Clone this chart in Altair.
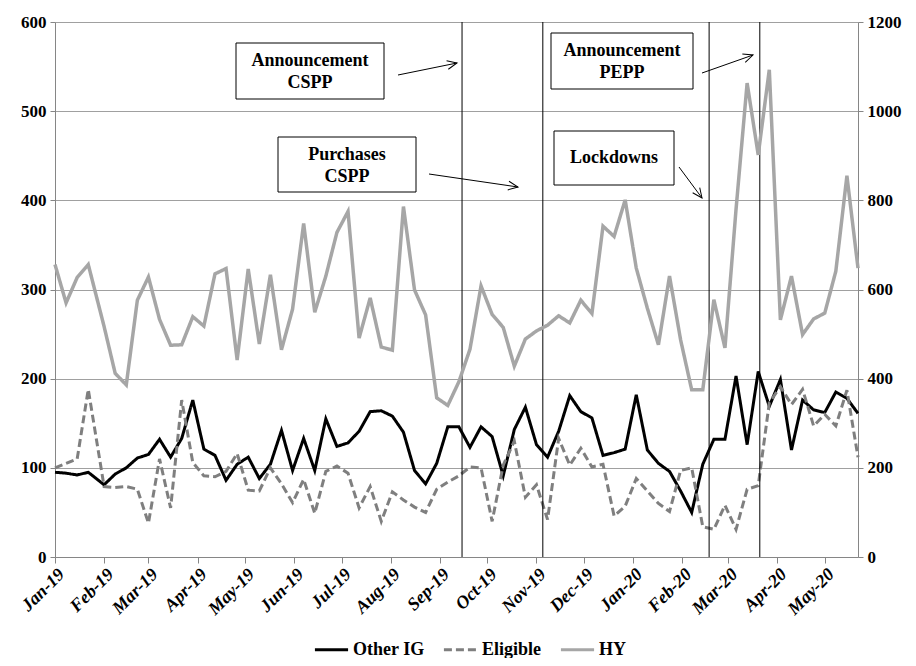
import math
import altair as alt
import pandas as pd

# ---------------- data ----------------
dates = [
    "2019-01-01", "2019-01-08", "2019-01-15", "2019-01-22",
    "2019-02-01", "2019-02-08", "2019-02-15", "2019-02-22",
    "2019-03-01", "2019-03-08", "2019-03-15", "2019-03-22", "2019-03-29",
    "2019-04-05", "2019-04-12", "2019-04-19", "2019-04-26",
    "2019-05-03", "2019-05-10", "2019-05-17", "2019-05-24", "2019-05-31",
    "2019-06-07", "2019-06-14", "2019-06-21", "2019-06-28",
    "2019-07-05", "2019-07-12", "2019-07-19", "2019-07-26",
    "2019-08-02", "2019-08-09", "2019-08-16", "2019-08-23", "2019-08-30",
    "2019-09-06", "2019-09-13", "2019-09-20", "2019-09-27",
    "2019-10-04", "2019-10-11", "2019-10-18", "2019-10-25",
    "2019-11-01", "2019-11-08", "2019-11-15", "2019-11-22", "2019-11-29",
    "2019-12-06", "2019-12-13", "2019-12-20", "2019-12-27",
    "2020-01-03", "2020-01-10", "2020-01-17", "2020-01-24", "2020-01-31",
    "2020-02-07", "2020-02-14", "2020-02-21", "2020-02-28",
    "2020-03-06", "2020-03-13", "2020-03-20", "2020-03-27",
    "2020-04-03", "2020-04-10", "2020-04-17", "2020-04-24",
    "2020-05-01", "2020-05-08", "2020-05-15", "2020-05-22",
]

other_ig = [
    95, 94, 92, 95, 81, 93, 100, 111, 115, 132, 112, 133, 176,
    121, 114, 86, 104, 112, 88, 104, 142, 97, 133, 97, 155, 124,
    128, 141, 163, 164, 158, 140, 97, 82, 105, 146, 146, 123, 146,
    135, 91, 143, 168, 126, 112, 141, 181, 163, 156, 114, 117, 121,
    182, 120, 105, 96, 74, 50, 104, 132, 132, 203, 126, 208, 169,
    199, 120, 176, 165, 162, 185, 178, 161,
]

eligible = [
    100, 105, 110, 188, 79, 78, 79, 76, 38, 110, 55, 176, 106,
    91, 90, 96, 116, 75, 74, 100, 82, 61, 87, 49, 96, 102,
    94, 55, 79, 40, 73, 64, 56, 50, 76, 84, 91, 101, 100,
    40, 103, 130, 67, 81, 42, 133, 103, 122, 101, 104, 46, 57,
    88, 74, 60, 51, 97, 100, 34, 31, 58, 31, 76, 80, 173,
    191, 171, 188, 147, 160, 147, 187, 112,
]

hy = [
    656, 570, 627, 656, 517, 412, 386, 576, 628, 533, 475, 476, 539,
    518, 635, 647, 442, 646, 478, 633, 465, 556, 748, 549, 630, 728,
    775, 491, 581, 471, 464, 786, 599, 543, 357, 340, 393, 466, 608,
    544, 515, 428, 489, 507, 520, 541, 525, 576, 546, 742, 719, 801,
    648, 558, 476, 630, 487, 375, 375, 577, 469, 780, 1063, 902, 1093,
    532, 630, 499, 534, 547, 641, 855, 648,
]

series_names = ["Other IG", "Eligible", "HY"]
series_colors = ["#000000", "#7f7f7f", "#a6a6a6"]
series_dashes = [[1, 0], [8, 4], [1, 0]]

event_dates = ["2019-09-15", "2019-11-05", "2020-02-18", "2020-03-21"]

left_ticks = [0, 100, 200, 300, 400, 500, 600]
right_ticks = [0, 200, 400, 600, 800, 1000, 1200]

# annotations (pixel layout in the page)
boxes = [
    # text, left, right, top, bottom, y of first text line
    ("Announcement\nCSPP", 236, 384, 43, 99, 61),
    ("Purchases\nCSPP", 278, 416, 137, 192, 155),
    ("Announcement\nPEPP", 551, 693, 33, 89, 51),
    ("Lockdowns", 554, 674, 131, 185, 158),
]
arrows = [
    # x start, y start, x end, y end
    (398, 75, 457, 63),
    (429, 174, 518, 187),
    (702, 73, 753, 55),
    (679, 167, 702, 198),
]

# ---------------- chart ----------------
FONT = "Liberation Serif"
PLOT_LEFT, PLOT_TOP = 55, 22
W, H = 803, 535

n = len(dates)
df = pd.DataFrame({
    "date": dates * 3,
    "series": [series_names[0]] * n + [series_names[1]] * n + [series_names[2]] * n,
    "value": other_ig + eligible + hy,
})

x_enc = alt.X(
    "date:T",
    scale=alt.Scale(type="utc", domain=[alt.DateTime(year=2019, month=1, date=1, utc=True),
                                        alt.DateTime(year=2020, month=5, date=22, utc=True)]),
    axis=alt.Axis(
        title=None, format="%b-%y", tickCount={"interval": "month", "step": 1},
        labelAngle=-45, labelFont=FONT, labelFontWeight="bold", labelFontSize=18,
        labelFontStyle="italic",
        labelColor="black", domainColor="#868686", tickColor="#868686", tickSize=6,
        grid=False, labelPadding=2, labelFlush=False, labelOverlap=False,
    ),
)

legend = alt.Legend(
    title=None, orient="none", direction="horizontal", legendX=258, legendY=609,
    symbolType="stroke", symbolStrokeWidth=3, symbolSize=1100,
    labelFont=FONT, labelFontWeight="bold", labelFontSize=18, labelColor="black",
    columnPadding=12, labelOffset=3,
)
color_enc = alt.Color("series:N", scale=alt.Scale(domain=series_names, range=series_colors), legend=legend)
dash_enc = alt.StrokeDash("series:N", scale=alt.Scale(domain=series_names, range=series_dashes), legend=legend)

left_y = alt.Y(
    "value:Q", scale=alt.Scale(domain=[0, 600], nice=False),
    axis=alt.Axis(
        title=None, values=left_ticks, grid=True, gridColor="#a0a0a0", gridWidth=1,
        domainColor="#868686", tickColor="#868686", tickSize=5, format="d",
        labelFont=FONT, labelFontWeight="bold", labelFontSize=17, labelColor="black",
        labelPadding=4,
    ),
)
right_y = alt.Y(
    "value:Q", scale=alt.Scale(domain=[0, 1200], nice=False),
    axis=alt.Axis(
        title=None, orient="right", values=right_ticks, grid=False, format="d",
        domainColor="#868686", tickColor="#868686", tickSize=5,
        labelFont=FONT, labelFontWeight="bold", labelFontSize=17, labelColor="black",
        labelPadding=4,
    ),
)

base = alt.Chart(df)
left_lines = base.transform_filter(
    alt.FieldOneOfPredicate(field="series", oneOf=series_names[:2])
).mark_line(strokeWidth=3).encode(
    x=x_enc, y=left_y, color=color_enc, strokeDash=dash_enc, order=alt.Order("date:T")
)
hy_line = base.transform_filter(
    alt.FieldEqualPredicate(field="series", equal="HY")
).mark_line(strokeWidth=3.5).encode(
    x=x_enc, y=right_y, color=color_enc, strokeDash=dash_enc, order=alt.Order("date:T")
)

events = alt.Chart(pd.DataFrame({"date": event_dates})).mark_rule(
    color="black", strokeWidth=1
).encode(x=alt.X("date:T"))

one = pd.DataFrame({"k": [0]})
annot_layers = []
for text, x0, x1, y0, y1, ty in boxes:
    annot_layers.append(
        alt.Chart(one).mark_rect(fill="white", stroke="black", strokeWidth=1).encode(
            x=alt.value(x0 - PLOT_LEFT), x2=alt.value(x1 - PLOT_LEFT),
            y=alt.value(y0 - PLOT_TOP), y2=alt.value(y1 - PLOT_TOP),
        )
    )
    annot_layers.append(
        alt.Chart(one).mark_text(
            font=FONT, fontWeight="bold", fontSize=18, color="black",
            align="center", baseline="middle", lineBreak="\n", lineHeight=22,
        ).encode(
            x=alt.value((x0 + x1) / 2 - PLOT_LEFT),
            y=alt.value(ty - PLOT_TOP),
            text=alt.value(text),
        )
    )
for xs, ys, xe, ye in arrows:
    ang = math.degrees(math.atan2(ye - ys, xe - xs)) % 360
    annot_layers.append(
        alt.Chart(one).mark_rule(color="black", strokeWidth=1).encode(
            x=alt.value(xs - PLOT_LEFT), y=alt.value(ys - PLOT_TOP),
            x2=alt.value(xe - PLOT_LEFT), y2=alt.value(ye - PLOT_TOP),
        )
    )
    annot_layers.append(
        alt.Chart(one).mark_point(
            shape="M-1,-0.45L0,0L-1,0.45", filled=False, stroke="black",
            strokeWidth=1, size=380, angle=ang, opacity=1,
        ).encode(x=alt.value(xe - PLOT_LEFT), y=alt.value(ye - PLOT_TOP))
    )

left_layer = alt.layer(left_lines, events, *annot_layers)

chart = alt.layer(left_layer, hy_line).resolve_scale(y="independent").properties(
    width=W, height=H,
    autosize=alt.AutoSizeParams(type="none"),
    padding={"left": PLOT_LEFT - 8, "top": PLOT_TOP - 8, "right": 50, "bottom": 101},
).configure_view(stroke=None).configure(background="white")

chart.save("out.html", embed_options={"renderer": "svg", "actions": False})
